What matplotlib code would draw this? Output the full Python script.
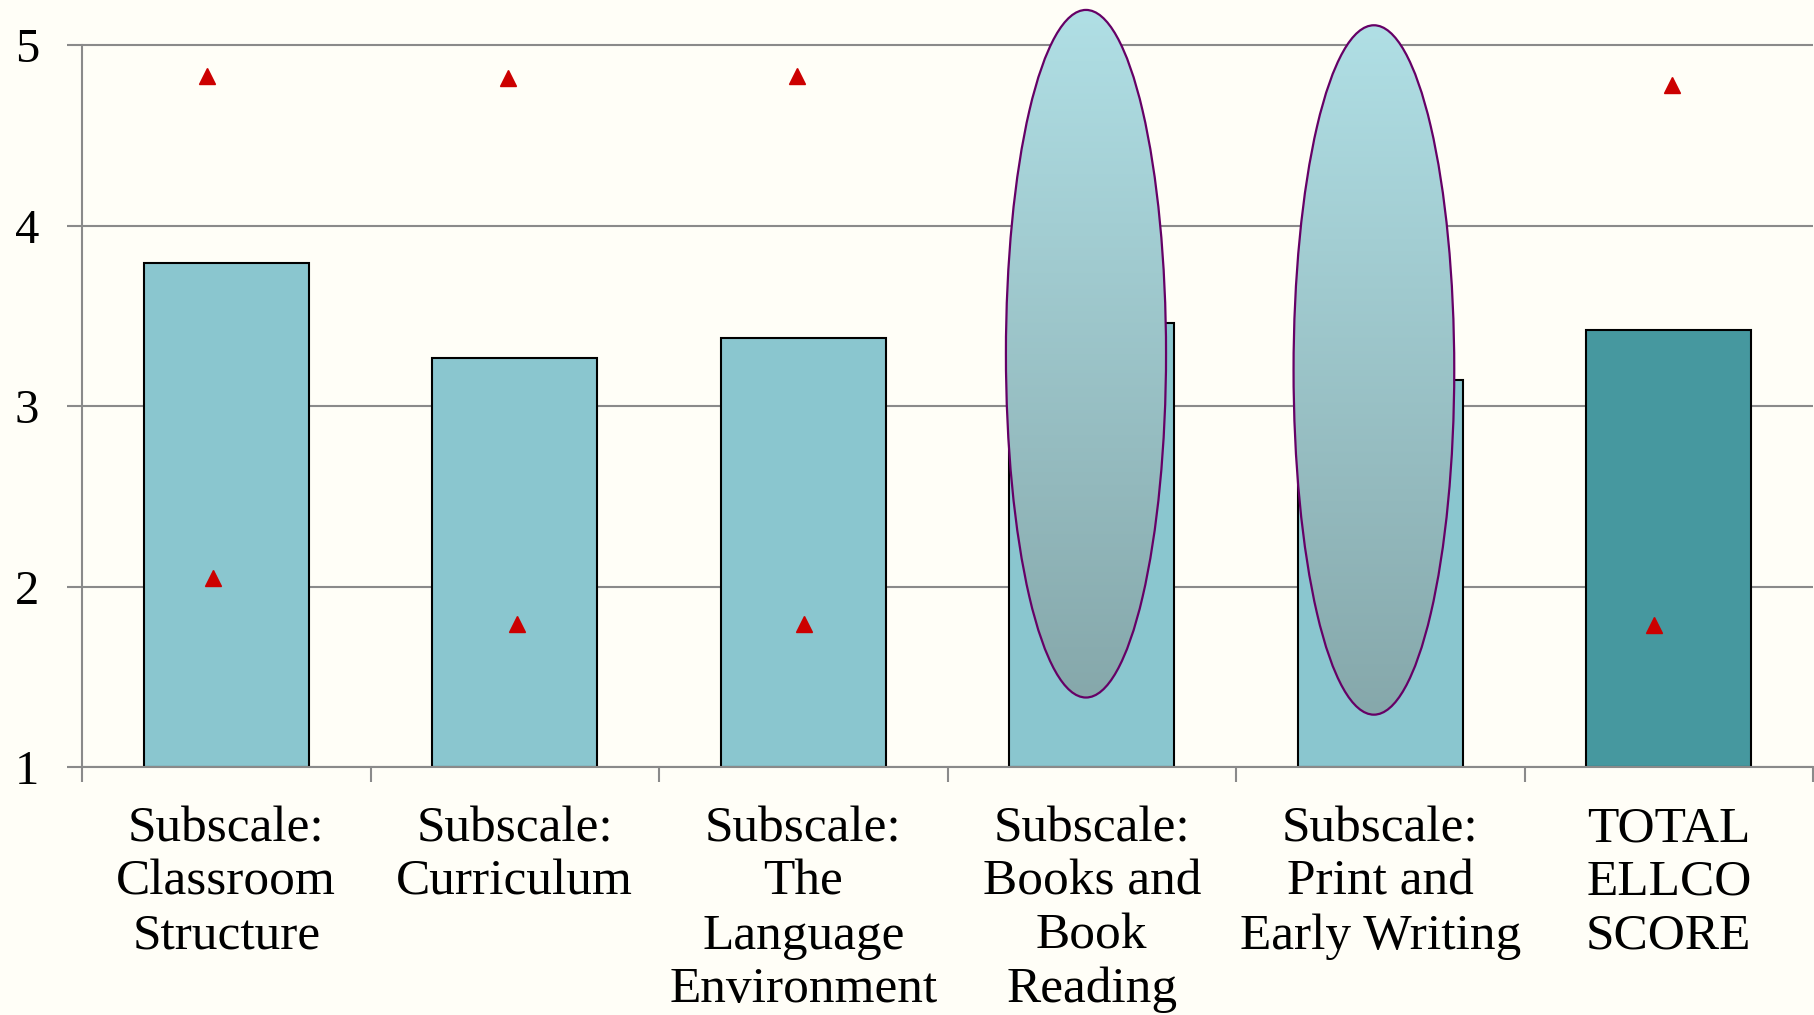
import matplotlib
matplotlib.use("Agg")
import matplotlib.pyplot as plt
import numpy as np
from matplotlib.patches import Ellipse
from matplotlib.colors import LinearSegmentedColormap

categories = ["Subscale:\nClassroom\nStructure", "Subscale:\nCurriculum",
              "Subscale:\nThe\nLanguage\nEnvironment", "Subscale:\nBooks and\nBook\nReading",
              "Subscale:\nPrint and\nEarly Writing", "TOTAL\nELLCO\nSCORE"]
means = [3.79, 3.265, 3.375, 3.46, 3.145, 3.42]
# red triangles: max and min scores (hidden behind the ovals for cats 4 and 5)
max_scores = [4.83, 4.82, 4.83, np.nan, np.nan, 4.78]
min_scores = [2.05, 1.79, 1.79, np.nan, np.nan, 1.785]
max_offset = [-0.065, -0.025, -0.02, 0, 0, 0.01]
min_offset = [-0.047, 0.008, 0.003, 0, 0, -0.05]
yticks = [1, 2, 3, 4, 5]

# highlight ovals: (x centre, y centre, width, height)
ovals = [(2.98, 3.29, 0.555, 3.81), (3.978, 3.20, 0.557, 3.82)]

bg = "#FFFEF7"
plt.rcParams['font.family'] = ['Liberation Serif', 'DejaVu Serif']

fig = plt.figure(figsize=(18.14, 10.15), dpi=100, facecolor=bg)
ax = fig.add_axes([82 / 1814, 1 - 767 / 1015, 1731 / 1814, 767 / 1015])
ax.set_facecolor(bg)

x = np.arange(len(categories))
colors = ["#8AC6CF"] * 5 + ["#46989F"]
ax.bar(x, np.array(means) - 1, bottom=1, width=0.573, color=colors,
       edgecolor="black", linewidth=1.5, zorder=2)

ax.plot(x + np.array(max_offset), max_scores, linestyle="none", marker="^",
        ms=11.5, color="#CC0000", zorder=3)
ax.plot(x + np.array(min_offset), min_scores, linestyle="none", marker="^",
        ms=11.5, color="#CC0000", zorder=3)

cmap = LinearSegmentedColormap.from_list("oval", ["#86A8AB", "#B0DFE5"])
grad = np.linspace(0, 1, 256).reshape(-1, 1)
for cx, cy, w, h in ovals:
    e = Ellipse((cx, cy), w, h, facecolor="none", edgecolor="#660066",
                linewidth=1.6, zorder=5)
    ax.add_patch(e)
    im = ax.imshow(grad, extent=[cx - w / 2, cx + w / 2, cy - h / 2, cy + h / 2],
                   origin="lower", aspect="auto", cmap=cmap, zorder=4)
    im.set_clip_path(e)

ax.set_xlim(-0.5, len(categories) - 0.5)
ax.set_ylim(1, 5.25)

ax.set_yticks(yticks)
ax.set_yticklabels([str(v) for v in yticks], fontsize=35)
ax.yaxis.grid(True, color="#8A8A8A", linewidth=1.5, zorder=0)
ax.set_axisbelow(True)

ax.set_xticks(x)
ax.set_xticklabels(categories, fontsize=37, linespacing=1.2)
ax.set_xticks(np.arange(-0.5, len(categories)), minor=True)
ax.tick_params(axis="x", which="major", length=0, pad=28)
ax.tick_params(axis="x", which="minor", length=11, width=1.5, color="#8A8A8A")
ax.tick_params(axis="y", length=11, width=1.5, color="#8A8A8A", pad=20)

for s in ["top", "right"]:
    ax.spines[s].set_visible(False)
for s in ["left", "bottom"]:
    ax.spines[s].set_color("#8A8A8A")
    ax.spines[s].set_linewidth(1.5)
    ax.spines[s].set_zorder(6)
ax.spines["left"].set_bounds(1, 5)

fig.savefig("out.png", dpi=100, facecolor=bg)
